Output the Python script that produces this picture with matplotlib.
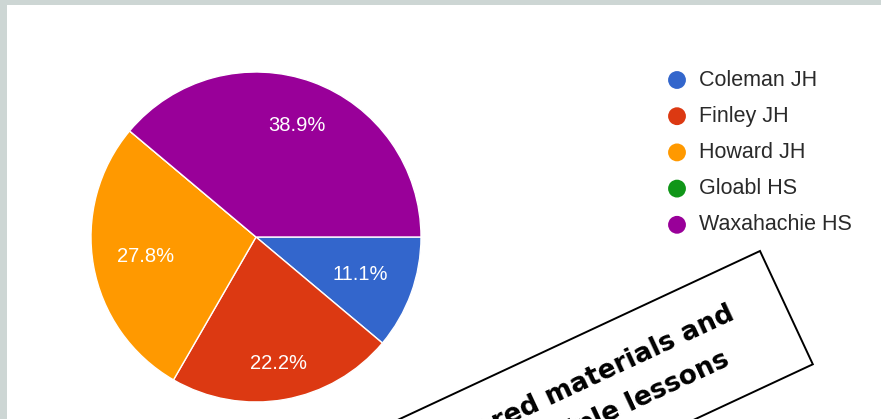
import numpy as np
import matplotlib
matplotlib.use("Agg")
import matplotlib.pyplot as plt
from matplotlib.patches import Polygon, Rectangle

# Responses per campus
schools = ["Coleman JH", "Finley JH", "Howard JH", "Gloabl HS", "Waxahachie HS"]
responses = [2, 4, 5, 0, 7]
colors = ["#3366cc", "#dc3912", "#ff9900", "#109618", "#990099"]

note_lines = ["Shared materials and", "multiple lessons"]

W, H = 881, 419
fig = plt.figure(figsize=(W / 100, H / 100), dpi=100)
fig.patch.set_facecolor("white")

# pie axes: centre (256, 237) px, radius 165 px
cx, cy, r = 256, 237, 165
ax = fig.add_axes([(cx - r) / W, (H - cy - r) / H, 2 * r / W, 2 * r / H])


def pct_label(p):
    return "" if p < 0.05 else f"{p:.1f}%"


wedges, texts, autotexts = ax.pie(
    responses, colors=colors, startangle=0, counterclock=False,
    autopct=pct_label, pctdistance=0.72,
    wedgeprops=dict(edgecolor="white", linewidth=1.0),
    textprops=dict(color="white", fontsize=14.5, family="Liberation Sans"),
)
# label radius per slice
label_r = [0.67, 0.78, 0.68, 0.7, 0.72]
for w, t, d in zip(wedges, autotexts, label_r):
    mid = np.deg2rad((w.theta1 + w.theta2) / 2)
    t.set_position((d * np.cos(mid), d * np.sin(mid)))
ax.set_xlim(-1, 1)
ax.set_ylim(-1, 1)
ax.set_aspect("equal")

# overlay in pixel coordinates (y down) for frame, legend and note box
ov = fig.add_axes([0, 0, 1, 1], zorder=5)
ov.set_xlim(0, W)
ov.set_ylim(H, 0)
ov.set_axis_off()

border = "#cdd6d4"
ov.add_patch(Rectangle((0, 0), W, 5, color=border, lw=0))
ov.add_patch(Rectangle((0, 0), 7, H, color=border, lw=0))

# legend
for i, (name, col) in enumerate(zip(schools, colors)):
    y = 80 + 36.2 * i
    ov.scatter([677], [y], s=165, color=col, edgecolors="none")
    ov.text(699, y, name, fontsize=15.5, family="Liberation Sans",
            color="#2a2a2a", va="center", ha="left")

# rotated note box
ang = np.deg2rad(25)
u = np.array([np.cos(ang), -np.sin(ang)])   # along the text, image coords
v = np.array([np.sin(ang), np.cos(ang)])    # across the text, downward
top_right = np.array([760.0, 251.0])
box_h, box_w = 125, 620
corners = [top_right, top_right + box_h * v,
           top_right + box_h * v - box_w * u, top_right - box_w * u]
ov.add_patch(Polygon(corners, closed=True, facecolor="white",
                     edgecolor="black", lw=1.4))

# each line right-aligned on its own baseline
line_ends = [np.array([735.5, 319.0]), np.array([731.0, 365.0])]
for txt, p in zip(note_lines, line_ends):
    ov.text(p[0], p[1], txt, rotation=25, rotation_mode="anchor",
            ha="right", va="baseline", fontsize=19, fontweight="bold",
            family="DejaVu Sans", color="black")

fig.savefig("out.png", dpi=100)
